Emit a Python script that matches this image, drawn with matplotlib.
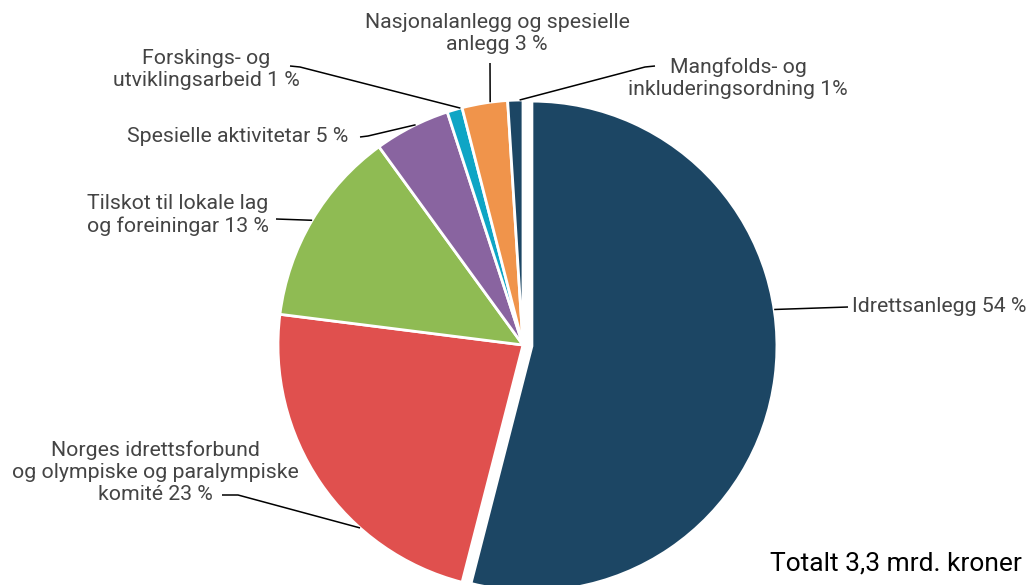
import numpy as np
import matplotlib
matplotlib.use("Agg")
import matplotlib.pyplot as plt

# data
categories = [
    "Idrettsanlegg",
    "Norges idrettsforbund og olympiske og paralympiske komité",
    "Tilskot til lokale lag og foreiningar",
    "Spesielle aktivitetar",
    "Forskings- og utviklingsarbeid",
    "Nasjonalanlegg og spesielle anlegg",
    "Mangfolds- og inkluderingsordning",
]
shares = [54, 23, 13, 5, 1, 3, 1]
labels = [
    "Idrettsanlegg 54 %",
    "Norges idrettsforbund\nog olympiske og paralympiske\nkomité 23 %",
    "Tilskot til lokale lag\nog foreiningar 13 %",
    "Spesielle aktivitetar 5 %",
    "Forskings- og\nutviklingsarbeid 1 %",
    "Nasjonalanlegg og spesielle\nanlegg 3 %",
    "Mangfolds- og\ninkluderingsordning 1%",
]
colors = ["#1c4664", "#e0504e", "#8fbb53", "#8964a0", "#0ea5c5", "#f0944b", "#1c4664"]
total_text = "Totalt 3,3 mrd. kroner"

W, H = 1030, 585
fig = plt.figure(figsize=(W / 100, H / 100), dpi=100)
ax = fig.add_axes([0, 0, 1, 1])
ax.set_xlim(0, W)
ax.set_ylim(0, H)
ax.set_aspect("equal")
ax.axis("off")

def Y(y):
    return H - y

cx, cy, r = 523, Y(345), 245
wedges, _ = ax.pie(shares, colors=colors, startangle=90, counterclock=False,
                   center=(cx, cy), radius=r, explode=[9, 0, 0, 0, 0, 0, 0],
                   wedgeprops=dict(edgecolor="white", linewidth=2))
ax.set_xlim(0, W)
ax.set_ylim(0, H)

font = dict(family="Roboto", fontsize=15.3, color="#444444", linespacing=1.2)

# label layout: text position (top-origin px), alignment, leader points, anchor angle on pie
layout = [
    dict(xy=(852, 307), ha="left", pts=[(848, 307)], ang=8.6),
    dict(xy=(155, 472), ha="center", pts=[(222, 495), (238, 495)], ang=228.3),
    dict(xy=(178, 215), ha="center", pts=[(276, 219)], ang=149.4),
    dict(xy=(348, 136), ha="right", pts=[(360, 137), (368, 136)], ang=116.0),
    dict(xy=(206, 69), ha="center", pts=[(290, 66), (300, 67)], ang=104.8),
    dict(xy=(497, 34), ha="center", pts=[(490, 63)], ang=97.7),
    dict(xy=(738, 78), ha="center", pts=[(655, 66), (645, 67)], ang=90.8),
]

for w, lab, lay in zip(wedges, labels, layout):
    ax.text(lay["xy"][0], Y(lay["xy"][1]), lab, ha=lay["ha"], va="center",
            multialignment="center", **font)
    wx, wy = w.center
    a = np.deg2rad(lay["ang"])
    end = (wx + r * np.cos(a), wy + r * np.sin(a))
    xs = [p[0] for p in lay["pts"]] + [end[0]]
    ys = [Y(p[1]) for p in lay["pts"]] + [end[1]]
    ax.plot(xs, ys, color="black", linewidth=1.1, solid_capstyle="butt")

ax.text(1022, Y(563), total_text, ha="right", va="center",
        family="Roboto", fontsize=19, color="black")

fig.savefig("out.png", dpi=100)
